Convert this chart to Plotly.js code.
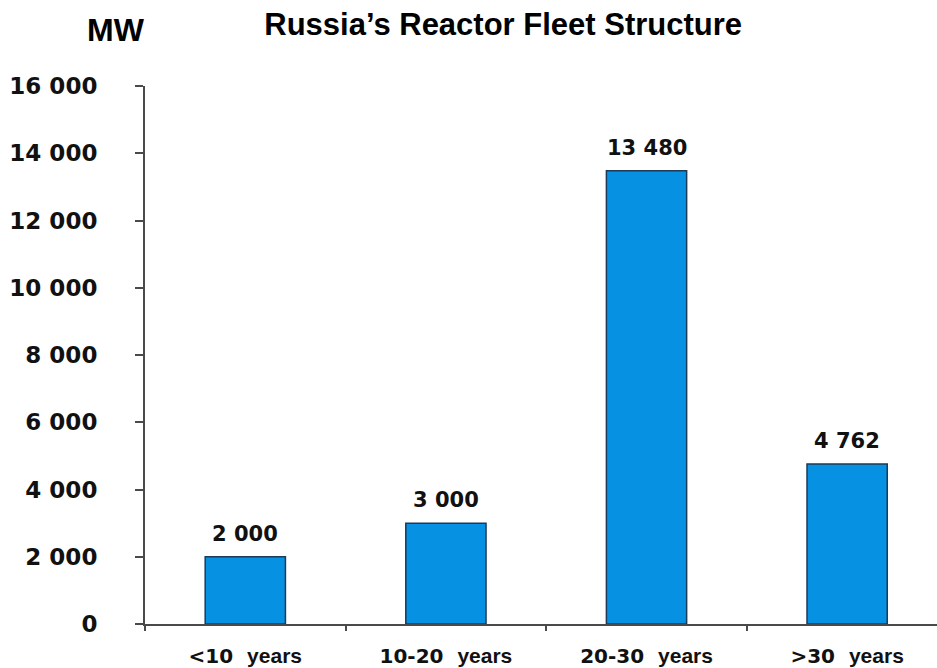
<!DOCTYPE html>
<html>
<head>
<meta charset="utf-8">
<script src="https://cdn.plot.ly/plotly-3.0.1.min.js"></script>
<style>html,body{margin:0;padding:0;background:#fff;}#chart{width:937px;height:668px;}</style>
</head>
<body>
<div id="chart"></div>
<script>
var ageGroups = ["<10", "10-20", "20-30", ">30"];
var unitWord = "years";
var capacityMW = [2000, 3000, 13480, 4762];
var yTickValues = [0, 2000, 4000, 6000, 8000, 10000, 12000, 14000, 16000];
var chartTitle = "Russia\u2019s Reactor Fleet Structure";
var unitLabel = "MW";

function esc(s){ return s.replace(/&/g,'&amp;').replace(/</g,'&lt;').replace(/>/g,'&gt;'); }
function fmt(v){ return String(Math.round(v)).replace(/\B(?=(\d{3})+(?!\d))/g, ' '); }

var ticktext = ageGroups.map(function(g){
  return esc(g) + "&nbsp;&nbsp;<span style='font-family:Liberation Sans, Arial;font-size:21px'>" + unitWord + "</span>";
});

var trace = {
  type: 'bar',
  x: ageGroups,
  y: capacityMW,
  width: 0.40,
  marker: {color: '#0791e2', line: {color: '#1d3a56', width: 1.5}},
  hoverinfo: 'x+y'
};

var annotations = ageGroups.map(function(g, i){
  return {
    x: g, y: capacityMW[i], xref: 'x', yref: 'y',
    text: '<b>' + fmt(capacityMW[i]) + '</b>', showarrow: false,
    yanchor: 'bottom', yshift: 9,
    font: {family: 'DejaVu Sans', size: 21, color: '#111'}
  };
});
annotations.push({
  x: -0.037, y: 1.104, xref: 'paper', yref: 'paper',
  text: '<b>' + unitLabel + '</b>', showarrow: false,
  xanchor: 'center', yanchor: 'middle',
  font: {family: 'Liberation Sans', size: 32, color: '#000'}
});

var layout = {
  width: 937, height: 668,
  margin: {l: 145, r: 0, t: 86, b: 44},
  paper_bgcolor: '#fff', plot_bgcolor: '#fff',
  showlegend: false,
  title: {
    text: '<b>' + chartTitle + '</b>',
    x: 0.537, xref: 'container', xanchor: 'center',
    y: 1 - 24/668, yref: 'container', yanchor: 'middle',
    font: {family: 'Liberation Sans', size: 31, color: '#000'}
  },
  xaxis: {
    type: 'category',
    range: [-0.5, 3.448],
    tickvals: ageGroups,
    ticktext: ticktext,
    tickson: 'boundaries',
    ticks: 'outside', ticklen: 5, tickwidth: 2, tickcolor: '#4a4a4a',
    showline: true, linecolor: '#4a4a4a', linewidth: 2,
    showgrid: false, zeroline: false,
    ticklabelstandoff: 13,
    tickfont: {family: 'DejaVu Sans', size: 20, color: '#111', weight: 'bold'}
  },
  yaxis: {
    range: [0, 16000],
    tickvals: yTickValues,
    ticktext: yTickValues.map(fmt),
    ticks: 'outside', ticklen: 8, tickwidth: 2, tickcolor: '#4a4a4a',
    showline: true, linecolor: '#4a4a4a', linewidth: 2,
    showgrid: false, zeroline: false,
    ticklabelstandoff: 33,
    tickfont: {family: 'DejaVu Sans', size: 23, color: '#111', weight: 'bold'}
  },
  annotations: annotations
};

Plotly.newPlot('chart', [trace], layout, {displayModeBar: false, staticPlot: true});
</script>
</body>
</html>
